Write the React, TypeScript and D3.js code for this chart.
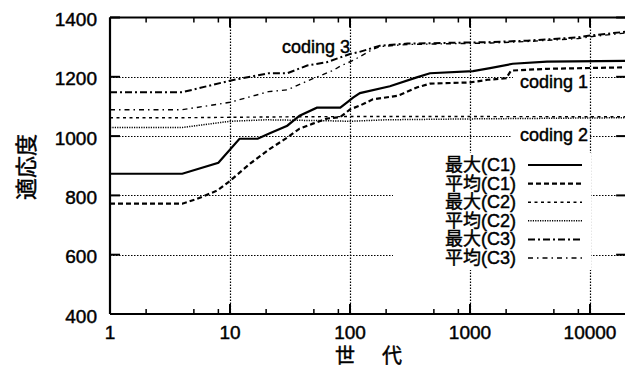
import React from "react";
import * as d3 from "d3";

type P = [number, number];

// generation, fitness
const maxC1: P[] = [[1,873],[4,873],[8,910],[12,991],[17,991],[21,1008],[30,1035],[38,1069],[53,1096],[83,1096],[94,1113],[106,1130],[121,1145],[215,1168],[360,1198],[464,1212],[1060,1219],[1470,1229],[2270,1244],[4380,1251],[20000,1254]];
const avgC1: P[] = [[1,772],[4,772],[5.3,788],[7.8,816],[10,849],[14.7,907],[21.5,957],[30,995],[38,1025],[49,1042],[64,1059],[83,1064],[100,1090],[121,1103],[155,1124],[250,1136],[360,1164],[464,1177],[1000,1181],[1400,1190],[2000,1195],[2200,1221],[4400,1227],[20000,1232]];
const maxC2: P[] = [[1,1062],[4,1062],[30,1065],[100,1066],[1000,1066],[20000,1065]];
const avgC2: P[] = [[1,1029],[4,1029],[10,1050],[20,1055],[60,1052],[100,1050],[200,1055],[1000,1058],[20000,1062]];
const maxC3: P[] = [[1,1148],[4,1148],[10,1187],[21,1212],[30,1212],[44,1238],[64,1249],[100,1277],[120,1284],[178,1305],[300,1312],[1500,1317],[3000,1322],[8000,1333],[10000,1339],[20000,1352]];
const avgC3: P[] = [[1,1089],[4,1089],[10,1114],[21,1150],[30,1156],[49,1194],[72,1221],[83,1236],[106,1255],[155,1293],[178,1302],[300,1309],[1500,1314],[3000,1319],[8000,1329],[10000,1335],[20000,1348]];

const xTicks = [1, 10, 100, 1000, 10000];
const xMinor = [2, 5, 8, 20, 50, 80, 200, 500, 800, 2000, 5000, 8000];
const yTicks = [400, 600, 800, 1000, 1200, 1400];
const yGrid = [600, 800, 1000, 1200];
const xGrid = [10, 100, 1000, 10000];
const legendLabels = ["最大(C1)", "平均(C1)", "最大(C2)", "平均(C2)", "最大(C3)", "平均(C3)"];
const codingLabels = ["coding 1", "coding 2", "coding 3"];

const styles = [
  { w: 2.2, dash: "" },
  { w: 2.2, dash: "5,3" },
  { w: 1.4, dash: "3,3.5" },
  { w: 1.5, dash: "1.2,1.2" },
  { w: 2, dash: "7,3,2,3" },
  { w: 1.4, dash: "5,4,1.5,4" },
];

export default function App() {
  const W = 625, H = 369;
  const left = 110, top = 17.5, bottom = 314;
  const x = d3.scaleLog().domain([1, 20000]).range([left, left + 120 * Math.log10(20000)]);
  const y = d3.scaleLinear().domain([400, 1400]).range([bottom, top]);
  const right = x(20000);
  const line = d3.line<P>().x(d => x(d[0])).y(d => y(d[1]));
  const series = [maxC1, avgC1, maxC2, avgC2, maxC3, avgC3];
  const font = "'Liberation Sans', Arial, Helvetica, sans-serif";
  const cjk = "'Liberation Sans', 'Noto Sans CJK JP', sans-serif";
  const heavy = { stroke: "#000", strokeWidth: 0.45 };

  return (
    <svg width={W} height={H} style={{ position: "absolute", left: 0, top: 0, background: "#fff" }}>
      <rect x={0} y={0} width={W} height={H} fill="#fff" />
      {/* grid */}
      {yGrid.map(v => (
        <line key={"gy" + v} x1={left} x2={right} y1={Math.round(y(v)) + 0.5} y2={Math.round(y(v)) + 0.5} stroke="#000" strokeWidth={1.2} strokeDasharray="1.5,1.5" />
      ))}
      {xGrid.map(v => (
        <line key={"gx" + v} x1={Math.round(x(v)) + 0.5} x2={Math.round(x(v)) + 0.5} y1={top} y2={bottom} stroke="#000" strokeWidth={1.2} strokeDasharray="1.5,1.5" />
      ))}
      {/* label / legend backgrounds */}
      <rect x={513} y={75} width={76} height={19} fill="#fff" />
      <rect x={511} y={126} width={78} height={20} fill="#fff" />
      <rect x={393} y={153} width={198} height={117} fill="#fff" />
      {/* curves */}
      {series.map((s, i) => (
        <path key={"s" + i} d={line(s) || ""} fill="none" stroke="#000" strokeWidth={styles[i].w} strokeDasharray={styles[i].dash} />
      ))}
      {/* frame */}
      <line x1={left} x2={left} y1={top} y2={bottom} stroke="#000" strokeWidth={2.2} />
      <line x1={left} x2={right} y1={bottom} y2={bottom} stroke="#000" strokeWidth={2.2} />
      <line x1={left} x2={right} y1={top} y2={top} stroke="#000" strokeWidth={2.2} />
      {/* y ticks */}
      {yTicks.map(v => (
        <g key={"yt" + v}>
          <line x1={left} x2={left + 10} y1={y(v)} y2={y(v)} stroke="#000" strokeWidth={2} />
          <line x1={right - 10} x2={right} y1={y(v)} y2={y(v)} stroke="#000" strokeWidth={2} />
          <text x={97} y={y(v) + 2} textAnchor="end" dominantBaseline="central" fontFamily={font} fontSize={19} fill="#000" {...heavy}>{v}</text>
        </g>
      ))}
      {/* x ticks */}
      {xTicks.map(v => (
        <g key={"xt" + v}>
          <line x1={x(v)} x2={x(v)} y1={bottom} y2={bottom - 10} stroke="#000" strokeWidth={2} />
          <line x1={x(v)} x2={x(v)} y1={top} y2={top + 10} stroke="#000" strokeWidth={2} />
          <text x={x(v)} y={339} textAnchor="middle" fontFamily={font} fontSize={19} fill="#000" {...heavy}>{v}</text>
        </g>
      ))}
      {xMinor.map(v => (
        <g key={"xm" + v}>
          <line x1={x(v)} x2={x(v)} y1={bottom} y2={bottom - 5} stroke="#000" strokeWidth={1.5} />
          <line x1={x(v)} x2={x(v)} y1={top} y2={top + 5} stroke="#000" strokeWidth={1.5} />
        </g>
      ))}
      {/* axis titles */}
      <text x={345} y={363} textAnchor="middle" fontFamily="'Noto Sans CJK JP', sans-serif" fontSize={20} fill="#000" {...heavy}>世</text>
      <text x={392} y={363} textAnchor="middle" fontFamily="'Noto Sans CJK JP', sans-serif" fontSize={20} fill="#000" {...heavy}>代</text>
      <text transform="translate(24,167) rotate(-90)" textAnchor="middle" dominantBaseline="central" fontFamily="'Noto Sans CJK JP', sans-serif" fontSize={22} fill="#000" {...heavy}>適応度</text>
      {/* coding labels */}
      <text x={520} y={88} fontFamily={font} fontSize={18} fill="#000" {...heavy}>{codingLabels[0]}</text>
      <text x={520} y={141} fontFamily={font} fontSize={18} fill="#000" {...heavy}>{codingLabels[1]}</text>
      <text x={282} y={53} fontFamily={font} fontSize={18} fill="#000" {...heavy}>{codingLabels[2]}</text>
      {/* legend */}
      {legendLabels.map((lab, i) => {
        const ly = 165 + i * 18.6;
        return (
          <g key={"lg" + i}>
            <text x={516} y={ly} textAnchor="end" dominantBaseline="central" fontFamily={cjk} fontSize={18} fill="#000" {...heavy}>{lab}</text>
            <line x1={528} x2={582} y1={ly} y2={ly} stroke="#000" strokeWidth={styles[i].w} strokeDasharray={styles[i].dash} />
          </g>
        );
      })}
    </svg>
  );
}
